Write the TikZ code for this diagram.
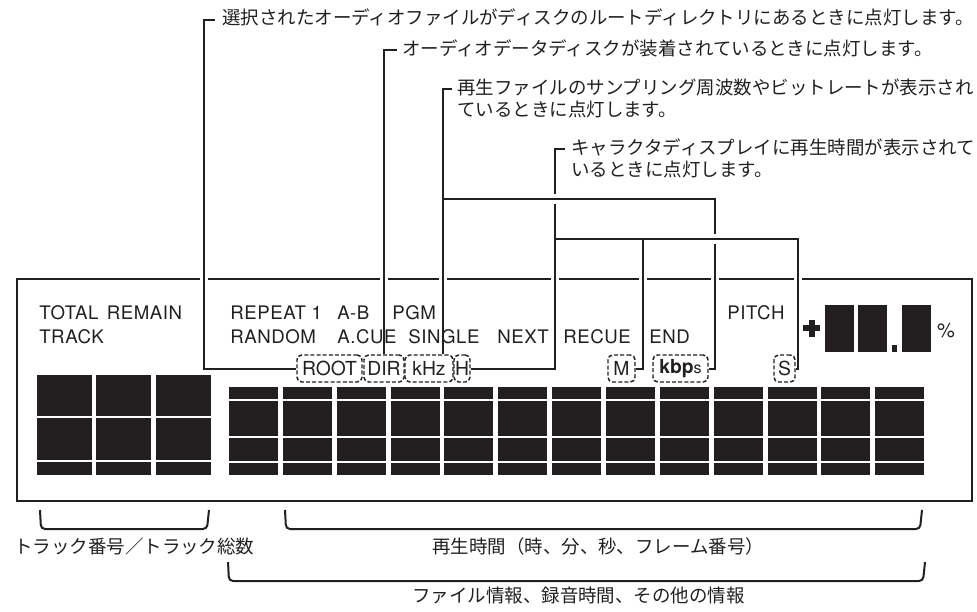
\documentclass[tikz,border=0pt]{standalone}
\usepackage{fontspec}
\setmainfont{TeX Gyre Heros}
\newfontfamily\lcdfont[LetterSpace=3]{TeX Gyre Heros}
\newfontfamily\jpfont{Noto Sans CJK JP}
\usetikzlibrary{calc}
\definecolor{ink}{RGB}{35,31,32}
\begin{document}
\begin{tikzpicture}[x=0.75pt,y=-0.75pt,
  jp/.style={font=\jpfont\fontsize{13.85pt}{16pt}\selectfont, text=ink, inner sep=0pt, anchor=west, text height=0.83em, text depth=0.07em},
  lcdlbl/.style={font=\lcdfont\fontsize{14pt}{16pt}\selectfont, text=ink, inner sep=0pt, anchor=base west},
  ind/.style={draw=ink, dash pattern=on 3pt off 1.6pt, line width=1.1pt, rounded corners=3.5pt, minimum height=20.25pt, inner sep=0pt, font=\fontsize{14.5pt}{16pt}\selectfont, text=ink},
  lead/.style={draw=ink, line width=1.5pt},
  frameline/.style={draw=ink, line width=1.7pt},
  brace/.style={draw=ink, line width=1.5pt, rounded corners=3pt},
  seg/.style={fill=ink},
  gap/.style={fill=white},
]
\useasboundingbox (0,0) rectangle (977,611);

% ---- frame
\coordinate (ftl) at (17,279);
\coordinate (fbr) at (972,501);
\draw[frameline] (ftl) rectangle (fbr);

% ---- labels (top)
\node[jp] (l1) at (222,19.5) {選択されたオーディオファイルがディスクのルートディレクトリにあるときに点灯します。};
\node[jp] (l2) at (402,50) {オーディオデータディスクが装着されているときに点灯します。};
\node[jp] (l3) at (457,89) {再生ファイルのサンプリング周波数やビットレートが表示され};
\node[jp] (l3b) at (457,111) {ているときに点灯します。};
\node[jp] (l4) at (571,149) {キャラクタディスプレイに再生時間が表示されて};
\node[jp] (l4b) at (571,171) {いるときに点灯します。};

% ---- display texts
\node[lcdlbl] (total) at (39,319) {TOTAL\hspace{2pt} REMAIN};
\node[lcdlbl] (track) at (39,343) {TRACK};
\node[lcdlbl] (repeat) at (230,319) {REPEAT 1};
\node[lcdlbl] (ab) at (337,319) {A-B};
\node[lcdlbl] (pgm) at (392,319) {PGM};
\node[lcdlbl] (random) at (230,343) {RANDOM};
\node[lcdlbl] (acue) at (337,343) {A.CUE};
\node[lcdlbl] (single) at (408,343) {SINGLE};
\node[lcdlbl] (next) at (497,343) {NEXT};
\node[lcdlbl] (recue) at (563,343) {RECUE};
\node[lcdlbl] (end) at (649,343) {END};
\node[lcdlbl] (pitch) at (727,319) {PITCH};

% ---- indicator boxes
\node[ind, minimum width=48.75pt] (root) at (329.5,368.5) {ROOT};
\node[ind, minimum width=30pt] (dir) at (384,368.5) {DIR};
\node[ind, minimum width=36pt] (khz) at (429,368.5) {kHz};
\node[ind, minimum width=12pt] (h) at (462,368.5) {H};
\node[ind, minimum width=20.25pt] (m) at (621.5,368.5) {M};
\node[ind, minimum width=41.25pt] (kbps) at (680.5,368.5) {\textbf{kbp}{\fontsize{12pt}{13pt}\selectfont s}};
\node[ind, minimum width=15.75pt] (s) at (784.5,368.5) {S};

% ---- junction coordinates
\coordinate (c1) at ($(l1.west)+(-18,0)$);
\coordinate (j3) at (443,199);
\coordinate (j3k) at (715,199);
\coordinate (j4) at (555,239);
\coordinate (j4m) at (643,239);
\coordinate (j4s) at (798,239);

% ---- gaps in the frame where leaders cross
\foreach \p in {c1, dir.north, j3, j4, j4m, j3k, j4s}
  \fill[gap] ($(\p |- ftl)+(-4,-3)$) rectangle ($(\p |- ftl)+(4,3)$);

% ---- leader lines
\draw[lead] ($(l1.west)+(-7,0)$) -- (c1) |- (root.west);
\draw[lead] ($(l2.west)+(-5,0)$) -| (dir.north);
\draw[lead] ($(l3.west)+(-5,0)$) -| (j3) -- (j3 |- khz.north);
\draw[lead] ($(l4.west)+(-6,0)$) -| (j4) |- (h.east);
\fill[gap] ($(j4 |- j3)+(-2,-5)$) rectangle ($(j4 |- j3)+(2,5)$);
\draw[lead] (j3) -- (j3k) |- (kbps.east);
\fill[gap] ($(j3k |- j4)+(-2,-5)$) rectangle ($(j3k |- j4)+(2,5)$);
\draw[lead] (j4) -- (j4s) |- (s.east);
\draw[lead] (j4m) |- (m.east);

% ---- LCD digits
\foreach \x in {37,96,156} \fill[seg] (\x,375) rectangle ++(55,100);
\foreach \y in {417,461} \draw[white, line width=1pt] (35,\y) -- (213,\y);
\foreach \i in {0,...,12} \fill[seg] ({229+53.85*\i},387) rectangle ++(49,88);
\foreach \y in {400,437,462} \draw[white, line width=1pt] (227,\y) -- (927,\y);

% ---- pitch display
\fill[seg] (803,325) rectangle (820,331);
\fill[seg] (808.5,320) rectangle (814.5,337);
\fill[seg] (825,305) rectangle (854,352);
\fill[seg] (858,305) rectangle (887,352);
\fill[seg] (892,345) rectangle (897,352);
\fill[seg] (902,305) rectangle (931,352);
\node[font=\fontsize{15pt}{16pt}\selectfont, text=ink, inner sep=0pt] (pct) at (946,330.5) {\%};

% ---- bottom braces and texts
\draw[brace] (40,510) -- (41,529) -- (207,529) -- (209,510);
\draw[brace] (285,510) -- (286,529) -- (920,529) -- (922,510);
\draw[brace] (228,562) -- (229,581) -- (923,581) -- (925,562);
\node[jp] (b1) at (14,548) {トラック番号／トラック総数};
\node[jp] (b2) at (432,548) {再生時間（時、分、秒、フレーム番号）};
\node[jp] (b3) at (412,597) {ファイル情報、録音時間、その他の情報};
\end{tikzpicture}
\end{document}
